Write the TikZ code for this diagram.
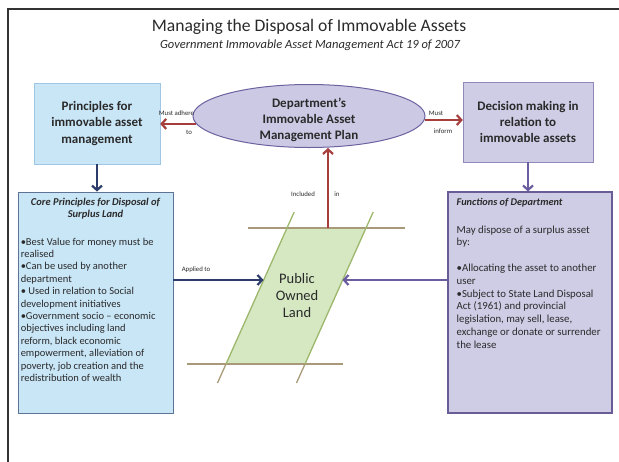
\documentclass[tikz,border=0pt]{standalone}
\usepackage{fontspec}
\setmainfont{Carlito}
\usetikzlibrary{arrows.meta,shapes.geometric}
\definecolor{txt}{HTML}{2A2A2A}
\definecolor{lbfill}{HTML}{C9E6F7}
\definecolor{lbdraw}{HTML}{9FC6E2}
\definecolor{cbdraw}{HTML}{5F7396}
\definecolor{pufill}{HTML}{CFCCE5}
\definecolor{pudraw}{HTML}{8F88B8}
\definecolor{fudraw}{HTML}{6A5C97}
\definecolor{elfill}{HTML}{CCC9E5}
\definecolor{eldraw}{HTML}{6D62A0}
\definecolor{redar}{HTML}{A63E3C}
\definecolor{bluar}{HTML}{2C3D6B}
\definecolor{purar}{HTML}{6C5CA0}
\definecolor{landfill}{HTML}{D5E8C2}
\definecolor{landdraw}{HTML}{9CB86C}
\definecolor{landline}{HTML}{A89A78}
\tikzset{
  boxtext/.style={font=\bfseries\fontsize{13}{16.2}\selectfont, text=txt, align=center},
  smalllbl/.style={font=\fontsize{6.8}{8}\selectfont, text=txt, inner sep=0pt},
  bodytext/.style={text=txt, align=left, inner sep=0pt, anchor=north west},
  arrowtip/.style={-{Straight Barb[length=4.5pt,width=10pt]}},
  conn/.style={line width=2.2pt, arrowtip},
}
\begin{document}
\begin{tikzpicture}[x=1pt,y=-1pt]
\useasboundingbox (0,0) rectangle (619,461);
% frame
\draw[line width=1.5pt, color=black!80] (8,470) -- (8,9) -- (630,9);
% titles
\node[font=\fontsize{17.6}{20}\selectfont, text=txt] (title) at (309,27) {Managing the Disposal of Immovable Assets};
\node[font=\itshape\fontsize{12.5}{14}\selectfont, text=txt] (subtitle) at (310,45) {Government Immovable Asset Management Act 19 of 2007};
% top boxes
\node[draw=lbdraw, fill=lbfill, minimum width=126pt, minimum height=81pt, boxtext] (pbox) at (97,123.5) {Principles for\\immovable asset\\management};
\node[ellipse, draw=eldraw, line width=1pt, fill=elfill, minimum width=232pt, minimum height=63pt, inner sep=0pt] (ell) at (309,116) {};
\node[boxtext] (elltxt) at ([yshift=-4pt]ell.center) {Department's\\Immovable Asset\\Management Plan};
\node[draw=pudraw, fill=pufill, minimum width=130pt, minimum height=80pt, boxtext] (dbox) at (528,122) {Decision making in\\relation to\\immovable assets};
% lower boxes
\node[draw=cbdraw, line width=0.9pt, fill=lbfill, minimum width=155pt, minimum height=221pt] (core) at (95.5,302.5) {};
\node[draw=fudraw, line width=1.1pt, fill=pufill, minimum width=164pt, minimum height=221pt] (func) at (530,302.5) {};
\node[font=\bfseries\itshape\fontsize{10.5}{12.2}\selectfont, text=txt, align=center, anchor=north, inner sep=0pt] (coretitle) at ([yshift=-6pt]core.north) {Core Principles for Disposal of\\Surplus Land};
\node[bodytext, font=\fontsize{10.5}{12.4}\selectfont] (coretxt) at ([xshift=3pt,yshift=-46pt]core.north west) {%
•Best Value for money must be\\
realised\\
•Can be used by another\\
department\\
• Used in relation to Social\\
development initiatives\\
•Government socio – economic\\
objectives including land\\
reform, black economic\\
empowerment, alleviation of\\
poverty, job creation and the\\
redistribution of wealth};
\node[font=\bfseries\itshape\fontsize{10.3}{12}\selectfont, text=txt, anchor=north west, inner sep=0pt] (functitle) at ([xshift=9pt,yshift=-7pt]func.north west) {Functions of Department};
\node[bodytext, font=\fontsize{10.8}{12.8}\selectfont] (functxt) at ([xshift=9pt,yshift=-34pt]func.north west) {%
May dispose of a surplus asset\\
by:\\[12.8pt]
•Allocating the asset to another\\
user\\
•Subject to State Land Disposal\\
Act (1961) and provincial\\
legislation, may sell, lease,\\
exchange or donate or surrender\\
the lease};
% public owned land
\coordinate (tl) at (287,228);
\coordinate (tr) at (366,228);
\coordinate (br) at (305,364);
\coordinate (bl) at (226,364);
\fill[landfill] (tl) -- (tr) -- (br) -- (bl) -- cycle;
\draw[landline, line width=1.3pt] (248,228) -- (405,228);
\draw[landline, line width=1.3pt] (187,364) -- (343,364);
\draw[landdraw, line width=1.3pt] (294.2,212) -- (tl) -- (bl);
\draw[landdraw, line width=1.3pt] (373.2,212) -- (tr) -- (br);
\draw[landline, line width=1.3pt] (bl) -- (217.5,383);
\draw[landline, line width=1.3pt] (br) -- (296.5,383);
\node[font=\fontsize{14.5}{17}\selectfont, text=txt, align=center] (land) at (297,296) {Public\\Owned\\Land};
\coordinate (landW) at (263.5,280);
\coordinate (landE) at (342.5,280);
\coordinate (landTop) at (328,228);
% connectors
\draw[conn, redar] (ell.184) -- (ell.184 -| pbox.east);
\draw[conn, redar] (ell.358.5) -- (ell.358.5 -| dbox.west);
\draw[conn, bluar] (pbox.south) -- (pbox.south |- core.north);
\draw[conn, purar] (dbox.south) -- (dbox.south |- func.north);
\draw[conn, redar] (landTop) -- (landTop |- ell.south);
\draw[conn, bluar] (core.east |- landW) -- (landW);
\draw[conn, purar] (func.west |- landE) -- (landE);
% connector labels
\node[smalllbl] (l1) at (176.5,113) {Must adhere};
\node[smalllbl] (l2) at (189,132) {to};
\node[smalllbl] (l3) at (436,113) {Must};
\node[smalllbl] (l4) at (443,131) {inform};
\node[smalllbl] (l5) at (303,194) {Included};
\node[smalllbl] (l6) at (337,194) {in};
\node[smalllbl] (l7) at (196,270) {Applied to};
\end{tikzpicture}
\end{document}
